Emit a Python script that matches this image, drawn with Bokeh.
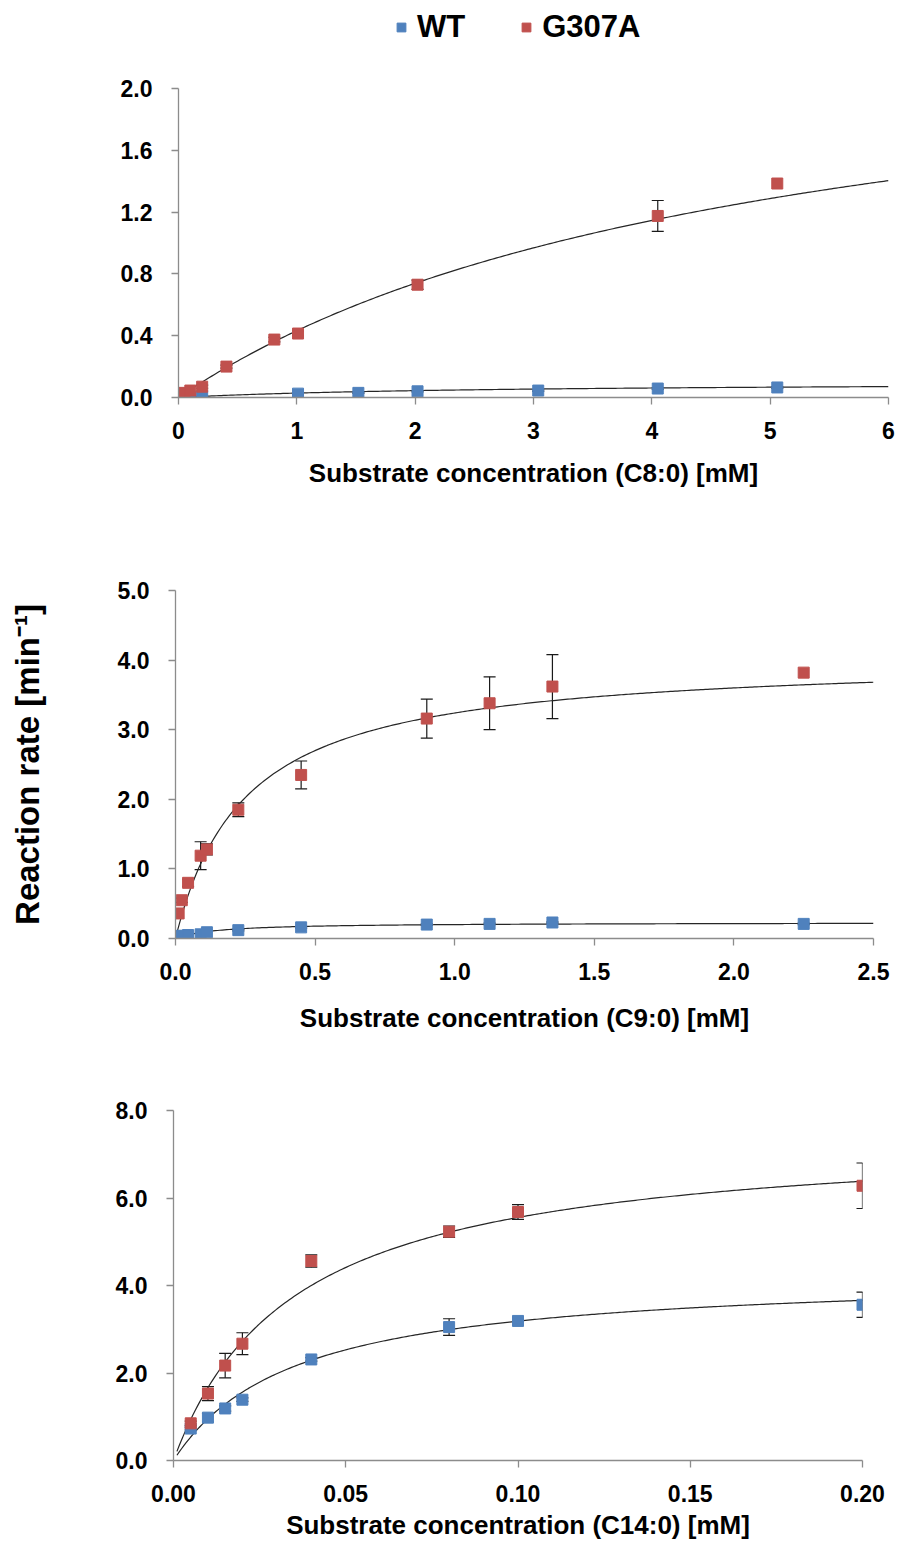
import numpy as np
from bokeh.plotting import figure
from bokeh.layouts import column, row
from bokeh.models import (FixedTicker, PrintfTickFormatter, Legend, LegendItem,
                          Whisker, TeeHead, ColumnDataSource, Range1d)
from bokeh.embed import file_html
from bokeh.resources import INLINE

BLUE = "#4F81BD"
RED = "#C0504D"
FONT = "Liberation Sans"
AXIS_GRAY = "#8C8C8C"

series_names = ["WT", "G307A"]

# ---------- Panel 1: C8:0 ----------
c8_wt_x = [0.025, 0.05, 0.1, 0.2, 1.01, 1.52, 2.02, 3.04, 4.05, 5.06]
c8_wt_y = [0.0, 0.005, 0.005, 0.01, 0.025, 0.03, 0.04, 0.045, 0.058, 0.065]
c8_wt_e = [0, 0, 0, 0, 0.004, 0.004, 0.004, 0.005, 0.006, 0.006]
c8_g_x = [0.025, 0.05, 0.1, 0.2, 0.405, 0.81, 1.01, 2.02, 4.05, 5.06]
c8_g_y = [0.01, 0.03, 0.045, 0.07, 0.2, 0.375, 0.414, 0.73, 1.175, 1.385]
c8_g_e = [0, 0, 0, 0.01, 0.01, 0.015, 0.015, 0.03, 0.1, 0.0]
c8_fit_wt = (0.10, 2.5)     # (Vmax, Km)
c8_fit_g = (2.55, 4.9)

# ---------- Panel 2: C9:0 ----------
c9_x = [0.01125, 0.0225, 0.045, 0.09, 0.1125, 0.225, 0.45, 0.9, 1.125, 1.35, 2.25]
c9_wt_y = [0.03, 0.04, 0.05, 0.06, 0.09, 0.12, 0.16, 0.20, 0.21, 0.23, 0.21]
c9_wt_e = [0, 0, 0, 0, 0, 0.01, 0.01, 0.01, 0.01, 0.01, 0.01]
c9_g_y = [0.36, 0.55, 0.80, 1.19, 1.28, 1.85, 2.35, 3.16, 3.38, 3.62, 3.82]
c9_g_e = [0.0, 0.03, 0.05, 0.20, 0.08, 0.10, 0.20, 0.28, 0.38, 0.46, 0.0]
c9_fit_wt = (0.23, 0.15)
c9_fit_g = (4.05, 0.25)

# ---------- Panel 3: C14:0 ----------
c14_x = [0.005, 0.01, 0.015, 0.02, 0.04, 0.08, 0.10, 0.20]
c14_wt_y = [0.73, 0.98, 1.19, 1.39, 2.31, 3.05, 3.19, 3.56]
c14_wt_e = [0.03, 0.10, 0.06, 0.04, 0.04, 0.19, 0.06, 0.29]
c14_g_y = [0.85, 1.53, 2.17, 2.67, 4.56, 5.23, 5.68, 6.28]
c14_g_e = [0.05, 0.16, 0.28, 0.25, 0.14, 0.13, 0.17, 0.52]
c14_fit_wt = (4.3, 0.035)
c14_fit_g = (7.5, 0.035)

# ticks
x1_ticks = [0, 1, 2, 3, 4, 5, 6]
y1_ticks = [0.0, 0.4, 0.8, 1.2, 1.6, 2.0]
x2_ticks = [0.0, 0.5, 1.0, 1.5, 2.0, 2.5]
y2_ticks = [0.0, 1.0, 2.0, 3.0, 4.0, 5.0]
x3_ticks = [0.00, 0.05, 0.10, 0.15, 0.20]
y3_ticks = [0.0, 2.0, 4.0, 6.0, 8.0]

TICK_FS = "23px"
LABEL_FS = "26px"


def mm(params, s):
    vmax, km = params
    return vmax * s / (km + s)


def make_panel(wt_x, wt_y, wt_e, g_x, g_y, g_e, fit_wt, fit_g, fit_start,
               xticks, yticks, xfmt, yfmt, xlabel, frame_w, frame_h,
               border_left, border_right, border_top, border_bottom,
               xlabel_standoff, ylabel=None):
    p = figure(output_backend="svg", toolbar_location=None,
               frame_width=frame_w, frame_height=frame_h,
               x_range=Range1d(xticks[0], xticks[-1]),
               y_range=Range1d(yticks[0], yticks[-1]),
               min_border_left=border_left, min_border_right=border_right,
               min_border_top=border_top, min_border_bottom=border_bottom)
    p.outline_line_color = None
    p.grid.visible = False
    p.background_fill_color = "white"
    p.border_fill_color = "white"

    for ax in (p.xaxis[0], p.yaxis[0]):
        ax.axis_line_color = AXIS_GRAY
        ax.axis_line_width = 1.3
        ax.major_tick_line_color = AXIS_GRAY
        ax.major_tick_line_width = 1.3
        ax.major_tick_in = 0
        ax.major_tick_out = 7
        ax.minor_tick_line_color = None
        ax.major_label_text_font = FONT
        ax.major_label_text_font_style = "bold"
        ax.major_label_text_font_size = TICK_FS
        ax.major_label_text_color = "black"
        ax.axis_label_text_font = FONT
        ax.axis_label_text_font_style = "bold"
        ax.axis_label_text_color = "black"
    p.xaxis.ticker = FixedTicker(ticks=xticks)
    p.yaxis.ticker = FixedTicker(ticks=yticks)
    p.xaxis.formatter = PrintfTickFormatter(format=xfmt)
    p.yaxis.formatter = PrintfTickFormatter(format=yfmt)
    p.xaxis.major_label_standoff = 17
    p.yaxis.major_label_standoff = 19
    p.xaxis.axis_label = xlabel
    p.xaxis.axis_label_text_font_size = LABEL_FS
    p.xaxis.axis_label_standoff = xlabel_standoff
    if ylabel:
        p.yaxis.axis_label = ylabel
        p.yaxis.axis_label_text_font_size = "33px"
        p.yaxis.axis_label_standoff = 69

    # fitted Michaelis-Menten curves
    s = np.linspace(fit_start, xticks[-1], 300)
    p.line(s, mm(fit_wt, s), line_color="#262626", line_width=1.2)
    p.line(s, mm(fit_g, s), line_color="#262626", line_width=1.2)

    rends = []
    for xs, ys, es, col in ((wt_x, wt_y, wt_e, BLUE), (g_x, g_y, g_e, RED)):
        xs_e = [x for x, e in zip(xs, es) if e > 0]
        up = [y + e for y, e in zip(ys, es) if e > 0]
        lo = [y - e for y, e in zip(ys, es) if e > 0]
        src = ColumnDataSource(dict(x=xs_e, upper=up, lower=lo))
        w = Whisker(base="x", upper="upper", lower="lower", source=src,
                    line_color="#1a1a1a", line_width=1.2,
                    upper_head=TeeHead(size=12, line_color="#1a1a1a", line_width=1.2),
                    lower_head=TeeHead(size=12, line_color="#1a1a1a", line_width=1.2))
        p.add_layout(w)
        r = p.scatter(xs, ys, marker="square", size=11, fill_color=col,
                      line_color=col)
        rends.append(r)
    return p, rends


# ---------- legend strip on top ----------
# The strip re-plots panel-1 series, but its ranges keep them out of view,
# so only the legend (which needs real glyph data) is visible.
LEG_H = 50
lf = figure(output_backend="svg", toolbar_location=None, width=880, height=LEG_H,
            min_border=0, x_axis_location=None, y_axis_location=None,
            x_range=Range1d(-20, -10), y_range=Range1d(-20, -10))
lf.outline_line_color = None
lf.grid.visible = False
leg_r = []
for xs, ys, col in ((c8_wt_x, c8_wt_y, BLUE), (c8_g_x, c8_g_y, RED)):
    leg_r.append(lf.scatter(xs, ys, marker="square", size=11,
                            fill_color=col, line_color=col))
legend = Legend(items=[LegendItem(label=series_names[0], renderers=[leg_r[0]]),
                       LegendItem(label=series_names[1], renderers=[leg_r[1]])],
                location=(390, 5), orientation="horizontal",
                padding=0, margin=0, spacing=50, label_standoff=5,
                glyph_width=22, glyph_height=22,
                label_text_font=FONT, label_text_font_style="bold",
                label_text_font_size="31px", label_text_color="black",
                background_fill_alpha=0, border_line_color=None)
lf.add_layout(legend)

p1, r1 = make_panel(c8_wt_x, c8_wt_y, c8_wt_e, c8_g_x, c8_g_y, c8_g_e,
                    c8_fit_wt, c8_fit_g, 0.0,
                    x1_ticks, y1_ticks, "%d", "%.1f",
                    "Substrate concentration (C8:0) [mM]",
                    710, 309, 178, 8, 88 - LEG_H, 110, 16)
p2, r2 = make_panel(c9_x, c9_wt_y, c9_wt_e, c9_x, c9_g_y, c9_g_e,
                    c9_fit_wt, c9_fit_g, 0.0,
                    x2_ticks, y2_ticks, "%.1f", "%.1f",
                    "Substrate concentration (C9:0) [mM]",
                    698, 348, 175, 20, 83, 110, 20,
                    ylabel="Reaction rate [min\u207b\u00b9]")
p3, r3 = make_panel(c14_x, c14_wt_y, c14_wt_e, c14_x, c14_g_y, c14_g_e,
                    c14_fit_wt, c14_fit_g, 0.001,
                    x3_ticks, y3_ticks, "%.2f", "%.1f",
                    "Substrate concentration (C14:0) [mM]",
                    689, 350, 173, 26, 62, 85, 5)

layout = column(row(lf), row(p1), row(p2), row(p3), spacing=0)

open("out.html", "w").write(file_html(layout, INLINE))
